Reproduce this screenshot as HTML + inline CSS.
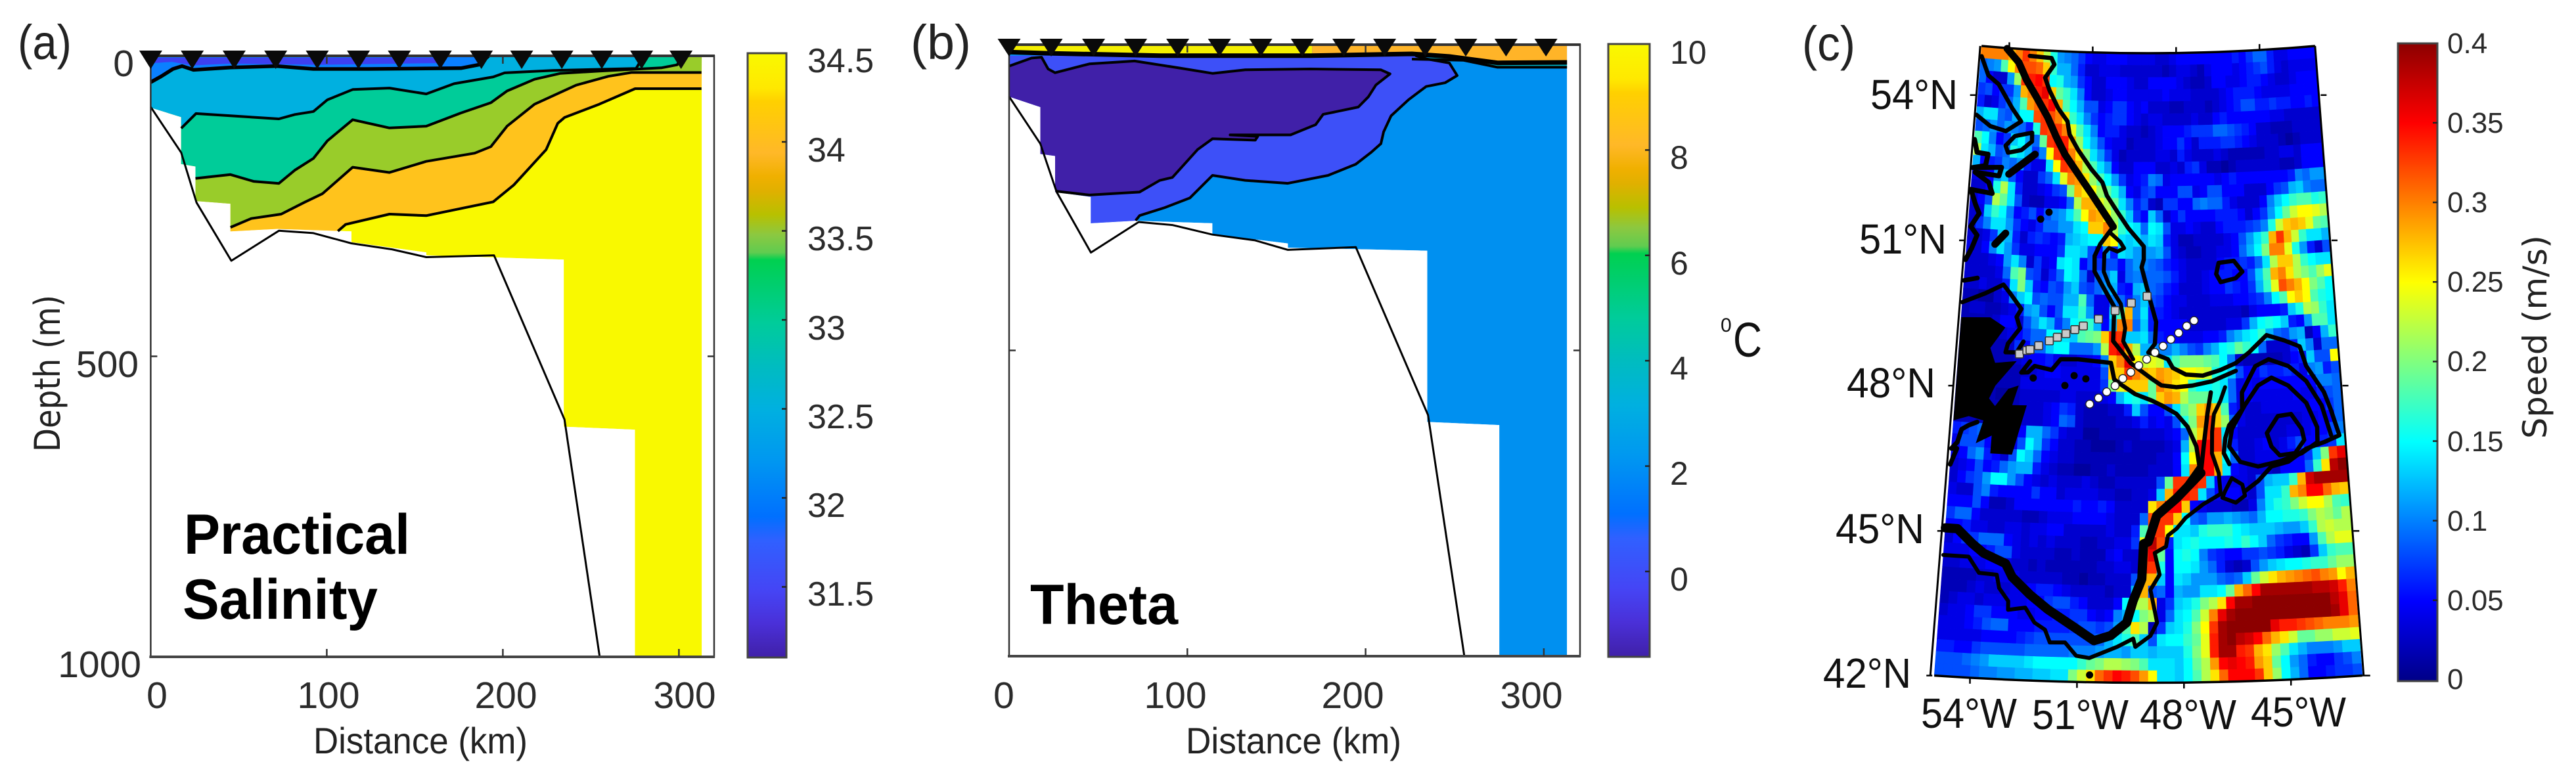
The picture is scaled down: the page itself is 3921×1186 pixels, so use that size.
<!DOCTYPE html>
<html lang="en">
<head>
<meta charset="utf-8">
<title>Practical salinity, theta and surface speed</title>
<style>
html,body{margin:0;padding:0;background:#fff;width:3921px;height:1186px;overflow:hidden}
svg{display:block}
text{font-family:"Liberation Sans",sans-serif;fill:#2b2b2b}
.tick{font-size:57px}
.cb{font-size:52px}
.cbt{font-size:50px}
.cbs{font-size:44px}
.map{font-size:64px;fill:#111}
.panel{font-size:74px;fill:#222}
.xl{font-size:56px;fill:#222}
.yl{font-family:"DejaVu Sans",sans-serif;fill:#222}
.big{font-size:86px;font-weight:bold;fill:#000}
</style>
</head>
<body>
<svg id="chart" xmlns="http://www.w3.org/2000/svg" width="3921" height="1186" viewBox="0 0 3921 1186">
<defs id="defs"></defs>
<g id="salinity"></g>
<g id="theta"></g>
<g id="map"></g>
<g id="bars"></g>

<text class="panel" x="27" y="90" textLength="82" lengthAdjust="spacingAndGlyphs">(a)</text>
<text class="panel" x="1386" y="90" textLength="92" lengthAdjust="spacingAndGlyphs">(b)</text>
<text class="panel" x="2743" y="92" textLength="81" lengthAdjust="spacingAndGlyphs">(c)</text>

<text class="tick" x="204" y="116" text-anchor="end">0</text>
<text class="tick" x="211" y="574" text-anchor="end">500</text>
<text class="tick" x="215" y="1031" text-anchor="end">1000</text>
<text class="yl" font-size="54" transform="translate(91,688) rotate(-90)" textLength="239" lengthAdjust="spacingAndGlyphs">Depth (m)</text>
<text class="tick" x="239" y="1078" text-anchor="middle">0</text>
<text class="tick" x="500" y="1078" text-anchor="middle">100</text>
<text class="tick" x="770" y="1078" text-anchor="middle">200</text>
<text class="tick" x="1042" y="1078" text-anchor="middle">300</text>
<text class="xl" x="477" y="1147" textLength="326" lengthAdjust="spacingAndGlyphs">Distance (km)</text>
<text class="big" x="280" y="843" textLength="344" lengthAdjust="spacingAndGlyphs">Practical</text>
<text class="big" x="278" y="942" textLength="297" lengthAdjust="spacingAndGlyphs">Salinity</text>

<text class="cb" x="1229" y="110">34.5</text>
<text class="cb" x="1229" y="246">34</text>
<text class="cb" x="1229" y="381">33.5</text>
<text class="cb" x="1229" y="517">33</text>
<text class="cb" x="1229" y="652">32.5</text>
<text class="cb" x="1229" y="787">32</text>
<text class="cb" x="1229" y="922">31.5</text>

<text class="tick" x="1528" y="1078" text-anchor="middle">0</text>
<text class="tick" x="1789" y="1078" text-anchor="middle">100</text>
<text class="tick" x="2059" y="1078" text-anchor="middle">200</text>
<text class="tick" x="2331" y="1078" text-anchor="middle">300</text>
<text class="xl" x="1805" y="1147" textLength="328" lengthAdjust="spacingAndGlyphs">Distance (km)</text>
<text class="big" x="1568" y="950" textLength="225" lengthAdjust="spacingAndGlyphs">Theta</text>

<text class="cbt" x="2542" y="97">10</text>
<text class="cbt" x="2542" y="257">8</text>
<text class="cbt" x="2542" y="418">6</text>
<text class="cbt" x="2542" y="578">4</text>
<text class="cbt" x="2542" y="738">2</text>
<text class="cbt" x="2542" y="899">0</text>
<text x="2619" y="505" font-size="30" style="fill:#111">0</text>
<text x="2638" y="543" font-size="74" style="fill:#111" textLength="44" lengthAdjust="spacingAndGlyphs">C</text>

<text class="map" x="2847" y="166" textLength="133" lengthAdjust="spacingAndGlyphs">54°N</text>
<text class="map" x="2830" y="386" textLength="133" lengthAdjust="spacingAndGlyphs">51°N</text>
<text class="map" x="2811" y="605" textLength="135" lengthAdjust="spacingAndGlyphs">48°N</text>
<text class="map" x="2794" y="827" textLength="135" lengthAdjust="spacingAndGlyphs">45°N</text>
<text class="map" x="2775" y="1047" textLength="134" lengthAdjust="spacingAndGlyphs">42°N</text>
<text class="map" x="2924" y="1108" textLength="146" lengthAdjust="spacingAndGlyphs">54°W</text>
<text class="map" x="3093" y="1110" textLength="147" lengthAdjust="spacingAndGlyphs">51°W</text>
<text class="map" x="3257" y="1110" textLength="147" lengthAdjust="spacingAndGlyphs">48°W</text>
<text class="map" x="3426" y="1106" textLength="145" lengthAdjust="spacingAndGlyphs">45°W</text>

<text class="cbs" x="3725" y="81">0.4</text>
<text class="cbs" x="3725" y="202">0.35</text>
<text class="cbs" x="3725" y="323">0.3</text>
<text class="cbs" x="3725" y="444">0.25</text>
<text class="cbs" x="3725" y="565">0.2</text>
<text class="cbs" x="3725" y="687">0.15</text>
<text class="cbs" x="3725" y="808">0.1</text>
<text class="cbs" x="3725" y="929">0.05</text>
<text class="cbs" x="3725" y="1049">0</text>
<text class="yl" font-size="50" transform="translate(3876,668) rotate(-90)" textLength="310" lengthAdjust="spacingAndGlyphs">Speed (m/s)</text>
</svg>

<script>
/* ---------- Section data: [distance km, depth m] ---------- */
const stationKm = [0,23.6,47.4,71,94.6,118,141.2,164.5,187.8,210.7,233.5,256.2,278.8,301.2];
const xTicksKm = [100,200,300];
const yTicksDepth = [500];

const salinityDomain = [[0,0],[0,86],[17.3,102],[17.3,180],[25.4,184],[25.4,241.5],[45.3,246],[45.3,292],[72,288],[114,292],[114,310],[156.5,327],[156.5,332],[234.6,339],[234.6,617],[275,622],[275,1000],[313,1000],[313,0]];
const salinityBathymetry = [[0,85],[17.3,161],[26,244],[45.8,341],[72.8,291],[92.4,295],[114,312],[137,322],[156.5,335],[195,332],[235,605],[255,1000]];
const salinity34 = [[106.3,291.7],[110.7,280.5],[135.6,263.4],[156.5,265.9],[194.5,242.9],[206.3,214.6],[224.6,156.1],[231.2,112.2],[235.1,102.4],[254.7,80.5],[275.1,54.6],[312.8,54.6]];
const salinity33p5 = [[45.3,285.4],[57.1,270.7],[74.1,263.4],[87.2,243.9],[97.6,229.3],[114.7,185.4],[135.6,194.1],[156.5,175.6],[184,162],[193.2,151.2],[202.4,117.1],[218,80.5],[241.6,48.8],[259.9,34.1],[273,27.8],[312.8,27.8]];
const salinity33 = [[25.4,203.9],[45.3,197.6],[58.4,208.8],[72.8,212.2],[81.9,190.2],[92.4,170.7],[100.3,141.5],[114.7,106.3],[135.6,120],[156.5,117.1],[176.2,95.1],[193.2,78],[202.4,58.5],[218,39],[232.5,29.3],[254.7,25.4],[290,20],[299,15],[302,0]];
const salinity32p5 = [[17.3,120.5],[25.7,96.1],[72.8,104.9],[81.9,97.6],[92.4,92.7],[100.3,73.2],[114.7,56.1],[135.6,53.7],[156.5,63.4],[172.3,46.3],[194.5,35.1],[201,28.3],[228.5,24.4],[275.7,21],[280,0]];
const salinity32 = [[0,43.9],[6,34.1],[12.6,21.9],[17.8,17],[24.3,23.4],[45.3,19.5],[71.5,17],[92.4,21.9],[123.8,21.9],[176.2,20.5],[186.6,14.6],[191.9,0]];
const salinity31p5 = [[2,3],[165,3],[165,12],[95,15],[70,14],[45,13],[24,16],[12,10],[2,12]];

const thetaDomain = [[0,0],[0,85],[17.5,102],[17.5,178.7],[25.8,182],[25.8,241],[45.8,249],[45.8,292],[70.4,288],[114,292],[114,310],[156.4,325],[156.4,332],[234.6,337],[234.6,617],[275,622],[275,1000],[313,1000],[313,0]];
const thetaBathymetry = [[0,85],[17.5,162],[26.7,241],[45.9,340],[72.7,290],[91.6,295],[114.1,310.6],[138,320],[156.4,335.6],[194.5,331],[235,605.6],[255.4,1000]];
const theta1 = [[71,287.6],[73.2,279.5],[87.3,266.5],[101.4,250.7],[114.1,213.8],[132.5,221.9],[156.4,226.7],[179,213.8],[194.5,195.5],[203,176.4],[208.6,162],[210.1,142.8],[214.3,116.4],[224.1,90],[234,68.4],[244.7,62.2],[251.4,50.5],[247,30],[234.8,23.6],[228,18]];
const thetaMinus1 = [[0,35],[12.6,21.9],[18.2,20.5],[21.9,39.7],[25.8,45.9],[45,31.5],[70.4,26.7],[95.8,38.2],[114.1,46.9],[132.5,41.1],[169.1,39.7],[208.6,41.1],[213.7,47.8],[205.8,66],[201.6,85.2],[195.9,102],[176.2,114],[172,130.8],[157.9,147.6],[124,147.6],[139.5,150],[138.1,156.2],[114.1,153.8],[105.7,171.6],[91.6,217.2],[84.5,222],[73.2,241],[45,245.9],[26.7,239.7]];
const thetaSurfaceWarm = [[0,12],[20,14],[85,18],[169,18],[226,15],[247,19.3],[274,29.7],[313,29]];
const thetaSurfaceCool = [[226,23.6],[255,25.6],[274,37],[313,37]];
const thetaYellowLimit = [[2,1],[170,1],[170,17],[85,17],[20,13],[2,11]];
const thetaOrangeLimit = [[170,1],[313,1],[313,29],[274,29.7],[247,19.3],[226,15],[170,17]];

/* ---------- Map data: speed in cm/s, north to south, west to east, 0.25 degree cells ---------- */
const speedGrid = [
[30,30,30,30,28,30,33,30,27,22,16,11,10,9,7,5,4,4,5,5,5,4,4,4,4,3,3,4,5,5,5,5,5,5,5,5,6,5,7,9,9,6,4,4,5,5,5,5],
[9,10,11,18,25,30,32,32,31,27,17,12,12,9,6,3,3,4,4,4,3,3,3,3,3,3,2,3,4,4,3,2,4,5,5,5,4,5,6,7,8,6,4,3,4,4,4,4],
[9,5,3,3,11,21,33,34,35,33,15,16,12,11,7,5,3,3,5,5,5,4,3,3,5,5,5,5,4,3,2,2,3,5,5,4,4,5,6,6,5,4,3,3,4,5,5,5],
[7,8,5,7,7,11,28,30,34,36,27,19,17,14,10,5,3,3,4,5,5,4,4,4,4,4,5,4,4,4,3,3,3,3,4,5,6,6,6,5,4,4,4,4,5,5,5,5],
[6,3,4,7,9,12,18,29,31,33,35,28,18,15,12,8,8,4,5,7,7,5,4,5,3,3,3,2,2,3,3,3,2,3,4,5,6,8,8,6,6,7,6,6,5,5,6,5],
[12,14,14,9,8,12,15,15,32,33,32,30,26,17,14,10,7,5,6,7,7,5,4,3,4,4,3,3,3,3,4,3,3,5,6,5,5,5,5,5,5,4,4,3,3,3,3,3],
[8,9,11,9,11,10,9,6,16,33,32,33,30,24,18,14,10,5,6,6,4,3,3,2,3,4,5,5,5,6,7,7,7,9,9,8,7,6,5,3,3,2,2,2,3,3,3,3],
[18,15,10,5,7,13,15,11,9,19,33,34,34,28,21,15,12,8,5,4,4,2,3,3,3,4,5,5,7,5,3,6,6,6,7,7,6,5,4,3,3,3,2,1,2,3,3,3],
[22,14,12,8,9,16,14,12,7,10,25,33,35,30,26,20,14,11,7,4,2,3,3,3,3,4,4,3,6,4,3,3,3,4,3,2,2,2,2,2,3,3,4,4,3,5,5,5],
[12,5,6,7,10,9,11,6,4,4,14,25,33,32,28,22,18,14,11,5,3,3,5,5,5,3,3,4,3,6,7,4,2,2,1,2,3,3,3,3,3,3,2,2,3,5,5,5],
[4,4,5,11,13,8,5,3,3,7,9,14,24,30,29,26,21,18,15,11,7,4,5,6,10,9,4,5,5,5,5,5,5,4,5,6,5,5,5,5,5,5,5,6,10,9,11,11],
[3,3,5,16,22,14,6,3,3,4,5,7,8,20,28,26,25,21,19,16,12,5,4,7,8,5,5,5,8,8,4,5,8,8,5,5,5,3,3,3,5,7,8,12,13,10,9,9],
[3,5,8,22,19,14,8,3,2,2,4,4,5,9,22,28,28,24,22,19,14,10,6,8,3,2,7,7,5,5,9,10,9,9,6,4,3,3,3,5,10,13,15,17,18,18,16,17],
[3,4,13,17,15,10,5,6,8,5,8,10,11,14,18,25,29,28,25,21,17,13,7,5,13,9,3,5,7,5,5,5,5,6,6,6,5,3,5,7,11,15,19,23,25,25,24,22],
[3,7,10,14,14,11,7,5,4,6,9,9,11,11,14,15,27,27,30,22,17,15,14,9,15,14,8,4,4,5,4,3,3,5,6,6,6,7,8,10,16,23,27,28,27,24,19,18],
[3,3,4,7,13,12,6,3,6,7,6,5,6,12,13,14,15,15,27,25,14,13,14,12,14,13,6,4,2,2,3,3,3,3,4,5,8,11,14,17,28,33,28,23,17,14,14,12],
[4,3,5,10,14,11,7,4,4,5,5,5,7,14,14,13,8,5,11,6,14,13,11,11,11,12,8,4,3,2,2,3,3,4,4,5,9,12,15,20,30,30,24,16,11,6,3,8],
[3,3,3,4,5,11,14,10,3,7,4,5,14,15,14,5,8,7,8,8,5,9,11,10,9,8,6,5,4,3,3,3,3,5,6,6,7,6,9,14,22,27,27,22,17,15,14,14],
[3,3,3,3,4,9,18,20,8,7,3,6,9,15,14,9,3,9,10,13,4,9,10,9,9,9,8,6,4,3,3,4,5,6,6,5,5,8,13,18,28,30,26,22,20,18,21,24],
[3,3,4,3,3,6,14,20,13,6,5,8,7,11,13,8,7,9,11,12,6,5,12,13,9,8,6,5,3,3,3,4,5,5,7,6,5,7,12,17,24,32,30,28,25,20,18,15],
[2,2,1,1,3,4,10,13,15,8,9,8,8,12,12,18,9,4,4,10,9,6,10,13,8,7,5,4,4,3,3,3,4,4,4,5,5,6,7,10,15,18,25,27,25,18,16,15],
[2,3,3,2,2,3,4,6,11,12,8,5,8,14,14,17,11,4,4,14,18,28,10,14,6,6,5,4,3,3,3,3,3,3,3,3,2,4,5,5,5,6,13,16,22,21,17,14],
[2,2,2,2,3,5,5,3,8,11,14,12,7,10,15,16,17,12,5,12,30,30,9,13,6,5,5,5,5,3,3,3,3,3,4,4,7,12,15,16,15,13,6,5,11,18,18,14],
[2,2,2,2,2,3,4,5,7,9,9,15,15,14,13,18,19,20,27,34,33,13,13,14,9,6,5,5,4,4,4,5,5,6,10,12,14,15,17,12,9,8,11,12,2,5,12,17],
[2,2,2,2,2,2,3,7,5,9,9,13,15,15,9,9,9,11,22,34,36,28,22,12,12,10,10,12,10,8,7,10,12,15,16,19,17,15,9,3,3,3,6,13,10,3,9,9],
[2,2,2,2,2,2,2,3,4,5,5,6,4,3,3,4,4,5,10,27,30,36,25,23,24,23,14,18,20,20,20,19,18,15,10,3,2,2,2,2,2,3,5,6,13,8,8,25],
[2,2,2,2,2,2,2,2,3,3,4,5,5,4,4,4,4,4,8,27,27,33,30,28,27,29,28,27,25,25,24,23,16,15,13,8,5,5,7,6,6,7,6,4,10,11,6,8],
[2,2,2,2,2,2,2,2,4,4,4,4,4,4,4,4,4,4,7,20,24,27,27,27,19,30,28,26,25,17,15,15,16,14,9,4,5,4,5,5,5,5,5,5,5,10,10,9],
[2,2,2,2,2,1,1,2,3,3,3,3,3,4,4,3,3,3,4,5,12,15,16,14,19,27,29,28,22,19,19,19,16,14,9,4,5,4,4,4,4,4,5,4,4,6,8,9],
[2,2,2,2,2,2,2,2,3,3,3,4,5,7,6,3,2,2,2,3,3,6,13,8,5,5,8,14,19,21,27,29,27,18,6,4,3,3,4,4,4,4,4,4,5,5,7,9],
[2,2,2,2,2,2,2,2,3,3,3,4,5,9,8,3,2,2,2,2,3,3,4,6,4,5,4,8,16,20,29,33,27,21,9,4,3,3,3,3,3,3,3,4,4,5,5,9],
[6,7,8,9,8,6,3,3,5,12,12,9,7,4,3,3,1,1,2,2,2,2,2,3,3,3,4,5,9,22,27,33,33,14,5,3,3,3,3,3,3,4,4,4,5,5,8,10],
[4,8,8,8,5,3,3,4,8,15,12,7,5,3,3,2,2,1,1,1,2,3,2,2,2,2,3,4,12,22,35,35,33,13,6,3,3,4,5,3,4,6,8,5,5,6,7,14],
[4,5,9,11,6,5,3,8,15,13,9,5,4,3,3,2,2,2,2,2,2,2,2,2,2,3,3,5,15,25,35,35,28,15,9,3,3,4,4,4,4,5,5,7,13,20,33,36],
[3,4,5,8,5,6,9,11,12,12,6,4,3,2,2,1,1,2,2,3,2,2,2,2,3,3,3,5,14,30,35,35,28,14,5,4,3,3,3,2,5,5,5,9,17,26,38,40],
[3,5,7,8,11,15,15,11,8,5,4,3,4,3,3,3,4,3,2,2,3,3,3,3,3,8,19,33,33,34,33,13,5,4,4,4,3,8,12,13,13,17,28,37,39,39,39,39],
[4,3,3,8,10,6,5,5,5,5,7,5,5,3,4,4,4,4,3,3,2,2,3,3,4,13,28,34,34,33,14,8,5,5,5,4,3,8,14,14,17,28,30,35,35,31,28,27],
[5,5,5,8,5,2,2,3,5,5,5,5,5,5,5,6,5,5,6,5,3,3,3,3,26,30,35,35,27,5,4,3,3,3,2,2,4,10,14,16,17,20,23,25,25,22,18,17],
[7,9,9,5,3,3,3,3,3,2,2,3,4,4,4,5,5,5,5,4,3,3,3,9,32,33,33,27,15,9,8,11,11,12,11,10,9,12,15,15,16,16,17,20,22,21,19,22],
[5,5,6,4,4,3,3,4,4,3,4,4,5,5,3,3,3,3,3,4,3,3,6,18,33,33,25,14,14,13,16,17,17,17,15,14,13,13,13,12,11,11,13,17,22,23,22,22],
[3,5,7,7,9,9,9,5,4,3,4,3,4,3,3,3,2,2,3,3,4,4,7,24,38,32,6,14,15,16,15,15,15,16,15,17,15,13,9,7,6,5,5,11,18,22,24,24],
[4,4,4,5,5,6,8,8,4,3,3,3,3,2,2,3,2,2,2,4,5,3,3,33,36,19,5,15,16,15,10,7,6,5,5,7,7,8,7,6,4,3,2,7,13,17,18,18],
[3,3,4,4,4,5,5,4,3,3,2,3,2,2,2,2,2,2,3,3,4,4,3,33,33,16,5,15,15,14,11,9,6,3,2,3,8,11,13,14,15,15,16,17,17,19,21,21],
[2,2,2,2,3,3,4,4,4,3,3,3,3,3,2,2,1,2,2,3,3,3,8,28,28,13,5,14,13,11,11,11,9,8,9,13,19,23,26,28,29,30,31,32,30,29,25,28],
[2,2,2,3,4,3,3,3,4,4,5,6,6,5,4,3,3,3,3,2,3,3,12,28,8,9,5,12,11,11,14,14,15,19,28,31,35,39,39,39,39,39,39,38,38,37,34,30],
[2,3,4,4,3,4,4,4,4,4,5,5,7,8,8,6,5,3,3,3,5,15,22,22,28,4,7,13,14,16,20,22,26,35,39,39,40,40,40,40,40,40,40,40,40,38,36,31],
[3,4,4,5,7,7,5,5,5,4,4,5,5,6,6,7,7,5,4,5,10,12,15,20,22,4,9,14,15,18,23,30,36,39,40,40,40,40,40,40,40,40,40,40,40,39,36,31],
[4,4,4,5,6,8,9,9,5,5,5,6,6,6,6,7,8,8,7,8,11,18,26,22,2,7,13,14,16,20,25,33,39,40,40,40,40,40,36,34,34,33,32,31,30,30,30,29],
[4,4,4,4,4,5,5,5,5,6,7,8,8,8,8,8,8,8,9,12,14,16,18,13,8,14,15,15,17,19,24,34,39,40,38,37,35,31,28,26,23,19,19,21,21,23,23,24],
[6,6,5,5,7,8,8,8,8,8,9,9,9,9,9,10,10,10,11,12,12,11,13,13,12,13,13,13,16,20,24,34,39,39,34,33,28,26,21,18,14,12,10,10,10,11,13,13],
[8,8,8,9,10,11,13,13,13,13,14,15,15,15,15,15,17,19,20,22,22,21,20,18,14,14,14,13,15,19,22,29,35,36,35,34,29,27,19,15,11,9,6,5,5,7,8,10],
[8,8,8,8,9,10,10,11,11,12,12,13,13,14,14,20,23,26,31,33,35,34,32,29,25,14,14,13,15,18,22,26,31,35,35,35,33,27,21,15,12,9,5,5,6,7,7,8]
];
const speedStops = [0,5,15,25,35,40];
const speedColors = [[0,0,135],[0,0,255],[0,255,255],[255,255,0],[255,0,0],[140,0,0]];
const latTicks = [54,51,48,45];
const lonTicks = [-54,-51,-48,-45];

/* ---------- Map overlays: [longitude, latitude] ---------- */
const landNewfoundland = [[-55,49.4],[-54.07,49.44],[-53.57,49.25],[-54.01,48.81],[-53.83,48.51],[-53.15,48.57],[-53.78,48.04],[-53.95,47.77],[-53.75,47.62],[-53.37,47.99],[-53.05,48.07],[-53.22,47.66],[-52.77,47.67],[-53.15,46.64],[-53.81,46.64],[-53.8,47.01],[-54.27,46.83],[-54.08,47.31],[-54.54,47.38],[-55,47.27]];
const currentInner = [[-54.08,54.99],[-53.63,54.72],[-53.32,54.37],[-52.94,54.03],[-52.52,53.63],[-52.19,53.23],[-51.87,52.88],[-51.39,52.48],[-50.93,52.09],[-50.47,51.68],[-50.17,51.41]];
const westBranch = [[-50.17,51.41],[-50.59,51.05],[-50.77,50.8],[-50.76,50.48],[-50.43,50.12],[-50.1,49.76],[-50.12,49.05],[-49.83,48.82],[-49.56,48.6],[-48.9,48.28],[-48.59,48.14],[-48.12,48.1],[-47.62,48.13],[-47,48.21],[-46.25,48.41]];
const westBranchInner = [[-50.24,51.27],[-49.93,51.1],[-49.8,50.97],[-50.02,50.9],[-50.3,50.97],[-50.45,50.86],[-50.45,50.8],[-50.46,50.48],[-50.28,50.21],[-49.89,49.82],[-49.74,49.32],[-49.8,49.05],[-49.48,48.68]];
const currentOuter = [[-53.25,54.87],[-52.47,54.85],[-52.36,54.72],[-52.67,54.44],[-52.49,54.18],[-52.16,53.82],[-51.82,53.56],[-51.73,53.29],[-51.42,52.98],[-50.95,52.59],[-50.56,52.32],[-50.4,52.05],[-50.04,51.72],[-49.66,51.38],[-49.15,51.01],[-49.15,50.74],[-49.22,50.58],[-48.94,49.9],[-48.75,49.45],[-48.79,49],[-49,48.82],[-48.73,48.77],[-48.38,48.68],[-48.23,48.5],[-47.82,48.36],[-47.29,48.33],[-46.72,48.44],[-46.24,48.57],[-45.81,48.78],[-45.23,49.12],[-44.67,48.99],[-44.2,48.85],[-44.03,48.44],[-43.53,47.88],[-43.36,47.52],[-43.15,46.97],[-43.63,46.85],[-44.18,46.74],[-44.75,46.49],[-45.27,46.41],[-45.69,46.12],[-46.1,45.92]];
const slopeBandUpper = [[-47.05,47.98],[-47.17,47.54],[-47.29,46.96],[-47.41,46.32]];
const slopeBandWest = [[-47.41,46.32],[-48.15,45.81],[-48.75,45.45],[-49,44.91],[-49.14,44.87],[-49.19,44.14],[-49.44,43.69],[-49.62,43.24],[-50.07,42.97],[-50.55,42.86],[-51.12,43.13],[-51.89,43.48],[-52.42,43.77],[-52.96,44.12],[-53.17,44.39],[-53.83,44.58],[-54.17,44.76],[-54.64,45.05],[-55,45.05]];
const slopeBandEast = [[-46.6,48.08],[-46.76,47.8],[-46.97,47.53],[-47.04,47.17],[-47.06,46.72],[-46.87,46.31],[-46.83,45.88],[-47.37,45.67],[-47.89,45.4],[-48.16,45.18],[-48.42,45.04],[-48.48,44.81],[-48.81,44.68],[-48.67,44.23],[-48.94,43.92],[-48.81,43.46],[-48.75,43.24],[-48.94,42.97],[-49.37,42.74],[-49.43,42.91],[-49.88,42.74],[-50.67,42.5],[-51.04,42.54],[-51.37,42.81],[-51.8,42.8],[-51.95,43.06],[-52.26,43.2],[-52.54,43.5],[-53.03,43.44],[-53.04,43.62],[-53.32,43.88],[-53.41,44.15],[-53.93,44.17],[-54.26,44.49],[-55,44.49]];
const junctionSouth = [[-52.73,48.58],[-52.99,48.34],[-52.78,48.35],[-52.58,48.49],[-52.04,48.42],[-51.77,48.65],[-51.22,48.66],[-50.18,48.6],[-50.07,48.26],[-49.82,48.14],[-49.41,47.96],[-48.9,47.83],[-48.59,47.73],[-48.13,47.55],[-47.79,47.28],[-47.53,46.87],[-47.45,46.46],[-48.15,45.81]];
const eddyOuter = [[-46.54,46.49],[-46.7,46.72],[-46.64,47.03],[-46.51,47.29],[-46.09,47.61],[-46.08,47.96],[-45.63,48.49],[-45.2,48.62],[-44.59,48.46],[-44.06,48.13],[-43.63,47.61],[-43.4,46.98]];
const eddyMiddle = [[-46.01,47.69],[-45.57,48.09],[-45.14,48.24],[-44.63,48.06],[-44.1,47.68],[-43.81,47.17],[-43.83,46.86],[-44.33,46.65],[-45,46.51],[-45.67,46.42],[-46.21,46.53],[-46.53,46.85],[-46.43,47.21],[-46.01,47.69]];
const eddyInner = [[-45,47.44],[-44.59,47.47],[-44.29,47.15],[-44.23,46.92],[-44.53,46.66],[-45,46.63],[-45.24,46.82],[-45.36,47.1],[-45,47.44]];
const closedNorth = [[-46.69,50.65],[-46.19,50.68],[-45.92,50.45],[-46.15,50.32],[-46.64,50.25],[-46.78,50.42],[-46.69,50.65]];
const closedSouth = [[-46.78,45.8],[-46.69,45.94],[-46.48,46.2],[-46.17,46.06],[-46.1,45.83],[-46.38,45.69],[-46.78,45.8]];
const shelfNorth = [[-54.97,54.79],[-54.68,54.41],[-54.29,54.24],[-53.77,53.77],[-53.43,53.51],[-53.94,53.29],[-54.49,53.37],[-55,53.58]];
const shelfLoop = [[-53.92,52.99],[-53.62,53.2],[-53.03,53.29],[-53.02,53.11],[-53.37,52.92],[-53.82,52.85],[-53.92,52.99]];
const shelfCoast = [[-55,53.07],[-54.88,52.81],[-54.5,52.79],[-54.56,52.55],[-55,52.49],[-54.01,52.54],[-54.08,52.36],[-54.9,52.4],[-54.41,52.21],[-54.27,51.99],[-55,52.04],[-54.8,51.73],[-54.66,51.56],[-54.91,51.28],[-54.68,51.11],[-54.83,50.83],[-55,50.59]];
const shelfBar1 = [[-53.75,52.41],[-52.89,52.85]];
const shelfBar2 = [[-54.07,50.95],[-53.74,51.19]];
const shelfCentral = [[-55,49.71],[-54.27,49.93],[-53.71,50.13],[-53.48,49.96],[-53.09,49.65],[-53.23,49.48],[-53.1,49.25],[-53.46,48.92],[-53.52,48.74],[-53.17,48.75],[-52.97,48.98]];
const shelfSmall = [[-55,50.16],[-54.57,50.23]];
const shelfSouth = [[-54.27,47.27],[-54.53,47.19],[-54.73,47.1],[-54.83,46.83],[-55,46.69],[-54.83,46.7],[-55,46.36]];
const shelfDots = [[-51.61,48.11],[-51.33,48.32],[-50.96,48.26],[-52.61,48.24],[-52.33,51.67],[-52.6,51.52],[-50.65,42.15]];
const stationsNorth = [[-53.08,48.72],[-52.85,48.8],[-52.75,48.82],[-52.48,48.91],[-52.15,49.02],[-51.9,49.1],[-51.63,49.18],[-51.35,49.27],[-51.08,49.35],[-50.6,49.5],[-50.07,49.68],[-49.55,49.84],[-49.04,49.98]];
const stationsSouth = [[-50.82,47.74],[-50.55,47.87],[-50.3,48],[-50.04,48.13],[-49.8,48.28],[-49.55,48.41],[-49.3,48.55],[-49.05,48.68],[-48.79,48.82],[-48.53,48.95],[-48.28,49.09],[-48.03,49.22],[-47.77,49.36],[-47.53,49.47]];

/* ---------- Colour bar stops (fraction from top, colour) ---------- */
const sectionBarStops = [[0,'#f9f900'],[0.058,'#ffe800'],[0.08,'#ffd000'],[0.165,'#ffb828'],[0.204,'#f0b000'],[0.228,'#e0b000'],[0.267,'#b8c000'],[0.3,'#8cc840'],[0.33,'#60cc50'],[0.342,'#00d050'],[0.446,'#00cc9a'],[0.518,'#00bcc0'],[0.589,'#00b0e0'],[0.672,'#0098f0'],[0.767,'#0070ff'],[0.807,'#3060ff'],[0.889,'#4545f5'],[0.944,'#4a30d8'],[1,'#4020a8']];
const salinityBarTicks = [34,33.5,33,32.5,32,31.5];
const thetaBarTicks = [8,6,4,2,0];
const speedBarTicks = [0.35,0.3,0.25,0.2,0.15,0.1,0.05];

/* ---------- Scales ---------- */
const NS = 'http://www.w3.org/2000/svg';
const salX = km => 229.4 + km * 2.68;
const salY = d => 85 + d * 0.915;
const thX = km => 1536 + km * 2.713;
const thY = d => 68 + d * 0.931;
const mapW = lat => 42.3 + (55 - lat) * 0.923;
const mapX = (lon, lat) => 3270 + (lon + 49) * mapW(lat);
const mapY = (lon, lat) => 1039.5 - (lat - 42) * 73.73 - 11 * Math.pow((lon + 49) / 6, 2);
const salBarY = v => 80.5 + (34.5 - v) * 271;
const thBarY = v => 68 + (10 - v) * 80.2;
const spBarY = v => 1035 - v * 2423;

function mk(tag, parent, attrs) {
  const e = document.createElementNS(NS, tag);
  for (const k in attrs) e.setAttribute(k, attrs[k]);
  parent.appendChild(e);
  return e;
}
const toPts = (arr, fx, fy) => arr.map(p => fx(p[0]).toFixed(1) + ',' + fy(p[1]).toFixed(1)).join(' ');
const toMapPts = arr => arr.map(p => mapX(p[0], p[1]).toFixed(1) + ',' + mapY(p[0], p[1]).toFixed(1)).join(' ');
function jet(v) {
  const x = Math.max(speedStops[0], Math.min(speedStops[speedStops.length - 1], v));
  for (let i = 1; i < speedStops.length; i++) {
    if (x <= speedStops[i]) {
      const f = (x - speedStops[i - 1]) / (speedStops[i] - speedStops[i - 1]);
      const a = speedColors[i - 1], b = speedColors[i];
      return 'rgb(' + Math.round(a[0] + (b[0] - a[0]) * f) + ',' + Math.round(a[1] + (b[1] - a[1]) * f) + ',' + Math.round(a[2] + (b[2] - a[2]) * f) + ')';
    }
  }
  return 'rgb(140,0,0)';
}

/* ---------- Section panels ---------- */
const defs = document.getElementById('defs');
function clip(id, domain, fx, fy) {
  const c = mk('clipPath', defs, {id: id});
  mk('polygon', c, {points: toPts(domain, fx, fy)});
}
clip('salClip', salinityDomain, salX, salY);
clip('thClip', thetaDomain, thX, thY);

function region(parent, clipId, pts, fx, fy, color, name) {
  const el = mk('polygon', parent, {points: toPts(pts, fx, fy), fill: color, 'clip-path': 'url(#' + clipId + ')'});
  
  
  return el;
}
function line(parent, pts, fx, fy, width, name) {
  const el = mk('polyline', parent, {points: toPts(pts, fx, fy), fill: 'none', stroke: '#000', 'stroke-width': width, 'stroke-linejoin': 'round'});
  
  
  return el;
}
function frame(parent, fx, fy, xR, name) {
  const x0 = fx(0), x1 = xR, y0 = fy(0), y1 = fy(1000);
  const box = mk('rect', parent, {x: x0, y: y0, width: x1 - x0, height: y1 - y0, fill: 'none', stroke: '#333', 'stroke-width': 2.5});
  
  
  const base = mk('line', parent, {x1: x0 - 2, x2: x1 + 1, y1: y1, y2: y1, stroke: '#444', 'stroke-width': 4});
  
  
  const top = mk('line', parent, {x1: x0 - 1, x2: x1 + 1, y1: y0, y2: y0, stroke: '#333', 'stroke-width': 4});
  
  
  xTicksKm.forEach(function (k) {
    const t = mk('line', parent, {x1: fx(k), x2: fx(k), y1: y1, y2: y1 - 12, stroke: '#333', 'stroke-width': 2.5});
    
    
    const u = mk('line', parent, {x1: fx(k), x2: fx(k), y1: y0, y2: y0 + 12, stroke: '#333', 'stroke-width': 2.5});
    
    
  });
  yTicksDepth.forEach(function (d) {
    const t = mk('line', parent, {x1: x0, x2: x0 + 10, y1: fy(d), y2: fy(d), stroke: '#333', 'stroke-width': 2.5});
    
    
    const u = mk('line', parent, {x1: x1, x2: x1 - 10, y1: fy(d), y2: fy(d), stroke: '#333', 'stroke-width': 2.5});
    
    
  });
}
function markers(parent, fx, top, tip) {
  stationKm.forEach(function (k) {
    const x = fx(k);
    const m = mk('polygon', parent, {points: (x - 17.5) + ',' + top + ' ' + (x + 17.5) + ',' + top + ' ' + x + ',' + tip, fill: '#0a0a0a'});
    
    
  });
}

const gS = document.getElementById('salinity');
region(gS, 'salClip', salinityDomain, salX, salY, '#f9f900', 'salinity-yellow-water');
region(gS, 'salClip', [[0,300],[106.3,300]].concat(salinity34, [[313,0],[0,0]]), salX, salY, '#ffc31c', 'salinity-orange-band');
region(gS, 'salClip', [[0,300],[45.3,300]].concat(salinity33p5, [[313,0],[0,0]]), salX, salY, '#99cc2a', 'salinity-lime-band');
region(gS, 'salClip', [[0,300],[25.4,300]].concat(salinity33, [[0,0]]), salX, salY, '#00cc99', 'salinity-teal-band');
region(gS, 'salClip', [[0,300],[17.3,300]].concat(salinity32p5, [[0,0]]), salX, salY, '#00b0e0', 'salinity-sky-band');
region(gS, 'salClip', salinity32.concat([[0,0]]), salX, salY, '#0a80ff', 'salinity-blue-band');
region(gS, 'salClip', salinity31p5, salX, salY, '#3d40f0', 'salinity-indigo-band');
line(gS, salinity34, salX, salY, 4, 'salinity-contour-34');
line(gS, salinity33p5, salX, salY, 4, 'salinity-contour-33.5');
line(gS, salinity33, salX, salY, 4, 'salinity-contour-33');
line(gS, salinity32p5, salX, salY, 4, 'salinity-contour-32.5');
line(gS, salinity32, salX, salY, 5.5, 'salinity-contour-32');
line(gS, salinityBathymetry, salX, salY, 3, 'salinity-bathymetry');
frame(gS, salX, salY, 1087, 'salinity-axes-box');
markers(gS, salX, 77, 105);

const gT = document.getElementById('theta');
region(gT, 'thClip', thetaDomain, thX, thY, '#0090f0', 'theta-blue-water');
region(gT, 'thClip', [[0,300],[71,300]].concat(theta1, [[0,18]]), thX, thY, '#3d50f8', 'theta-indigo-band');
region(gT, 'thClip', [[0,300],[26.7,300]].concat(thetaMinus1.slice().reverse(), [[0,35]]), thX, thY, '#4020a8', 'theta-purple-band');
region(gT, 'thClip', thetaYellowLimit, thX, thY, '#f5f000', 'theta-surface-yellow');
region(gT, 'thClip', thetaOrangeLimit, thX, thY, '#ffb428', 'theta-surface-orange');
region(gT, 'thClip', thetaSurfaceWarm.slice(5).concat(thetaSurfaceCool.slice().reverse()), thX, thY, '#00b4c8', 'theta-surface-teal');
line(gT, theta1, thX, thY, 4, 'theta-contour-1');
line(gT, thetaMinus1, thX, thY, 4, 'theta-contour-minus-1');
line(gT, thetaSurfaceWarm, thX, thY, 7, 'theta-surface-contour-warm');
line(gT, thetaSurfaceCool, thX, thY, 4, 'theta-surface-contour-cool');
line(gT, thetaBathymetry, thX, thY, 3, 'theta-bathymetry');
frame(gT, thX, thY, 2405, 'theta-axes-box');
markers(gT, thX, 59, 86);

/* ---------- Map ---------- */
const gM = document.getElementById('map');
const gCells = mk('g', gM, {});


speedGrid.forEach(function (row, r) {
  const latN = 55 - r * 0.25, latS = latN - 0.25;
  row.forEach(function (v, c) {
    const lonW = -55 + c * 0.25, lonE = lonW + 0.25;
    const color = jet(v);
    const pts = [[lonW, latN], [lonE, latN], [lonE, latS], [lonW, latS]];
    const cell = mk('polygon', gCells, {points: toMapPts(pts), fill: color, stroke: color, 'stroke-width': 0.6});
    
    
  });
});
const land = mk('polygon', gM, {points: toMapPts(landNewfoundland), fill: '#000'});


function contour(arr, width, name) {
  const el = mk('polyline', gM, {points: toMapPts(arr), fill: 'none', stroke: '#000', 'stroke-width': width, 'stroke-linejoin': 'round', 'stroke-linecap': 'round'});
  
  
}
contour(currentInner, 11, 'contour-current-inner');
contour(westBranch, 6.5, 'contour-west-branch');
contour(westBranchInner, 6, 'contour-west-branch-inner');
contour(currentOuter, 6.5, 'contour-current-outer');
contour(slopeBandUpper, 6.5, 'contour-slope-band-upper');
contour(slopeBandWest, 14, 'contour-slope-band-west');
contour(slopeBandEast, 6, 'contour-slope-band-east');
contour(junctionSouth, 6.5, 'contour-junction-south');
contour(eddyOuter, 6.5, 'contour-eddy-outer');
contour(eddyMiddle, 6.5, 'contour-eddy-middle');
contour(eddyInner, 6.5, 'contour-eddy-inner');
contour(closedNorth, 6.5, 'contour-closed-north');
contour(closedSouth, 6, 'contour-closed-south');
contour(shelfNorth, 6.5, 'contour-shelf-north');
contour(shelfLoop, 6.5, 'contour-shelf-loop');
contour(shelfCoast, 7.5, 'contour-shelf-coast');
contour(shelfBar1, 11, 'contour-shelf-bar-1');
contour(shelfBar2, 11, 'contour-shelf-bar-2');
contour(shelfCentral, 6.5, 'contour-shelf-central');
contour(shelfSmall, 7, 'contour-shelf-small');
contour(shelfSouth, 7, 'contour-shelf-south');
shelfDots.forEach(function (p) {
  const d = mk('circle', gM, {cx: mapX(p[0], p[1]), cy: mapY(p[0], p[1]), r: 5.5, fill: '#000'});
  
  
});
stationsNorth.forEach(function (p) {
  const x = mapX(p[0], p[1]), y = mapY(p[0], p[1]);
  const s = mk('rect', gM, {x: x - 6, y: y - 6, width: 12, height: 12, rx: 1.5, fill: '#c9c9c9', stroke: '#333', 'stroke-width': 1.6});
  
  
});
stationsSouth.forEach(function (p) {
  const c = mk('circle', gM, {cx: mapX(p[0], p[1]), cy: mapY(p[0], p[1]), r: 6, fill: '#fff', stroke: '#222', 'stroke-width': 1.4});
  
  
});
/* frame */
function edgePts() {
  const out = [];
  for (let l = -55; l <= -43; l += 0.5) out.push([l, 55]);
  return out;
}
const topEdge = mk('polyline', gM, {points: toMapPts(edgePts()), fill: 'none', stroke: '#000', 'stroke-width': 3.5});


const bottomEdge = mk('polyline', gM, {points: toMapPts(edgePts().map(function (p) { return [p[0], 42]; })), fill: 'none', stroke: '#000', 'stroke-width': 3.5});


const leftEdge = mk('line', gM, {x1: mapX(-55, 55) - 2, y1: mapY(-55, 55), x2: mapX(-55, 42) - 6, y2: mapY(-55, 42), stroke: '#000', 'stroke-width': 3});


const rightEdge = mk('line', gM, {x1: mapX(-43, 55), y1: mapY(-43, 55), x2: mapX(-43, 42) + 2, y2: mapY(-43, 42), stroke: '#000', 'stroke-width': 3});


latTicks.forEach(function (lat) {
  const a = mk('line', gM, {x1: mapX(-55, lat) - 12, x2: mapX(-55, lat) - 3, y1: mapY(-55, lat) + 1, y2: mapY(-55, lat) + 1, stroke: '#000', 'stroke-width': 2.5});
  
  
  const b = mk('line', gM, {x1: mapX(-43, lat) + 3, x2: mapX(-43, lat) + 12, y1: mapY(-43, lat) + 1, y2: mapY(-43, lat) + 1, stroke: '#000', 'stroke-width': 2.5});
  
  
});
const tickL = mk('line', gM, {x1: mapX(-55, 42) - 12, x2: mapX(-55, 42) - 3, y1: mapY(-55, 42), y2: mapY(-55, 42), stroke: '#000', 'stroke-width': 2.5});


const tickR = mk('line', gM, {x1: mapX(-43, 42), x2: mapX(-43, 42) + 12, y1: mapY(-43, 42), y2: mapY(-43, 42), stroke: '#000', 'stroke-width': 2.5});


lonTicks.forEach(function (lon) {
  const a = mk('line', gM, {x1: mapX(lon, 55), x2: mapX(lon, 55), y1: mapY(lon, 55), y2: mapY(lon, 55) - 9, stroke: '#000', 'stroke-width': 2.5});
  
  
  const b = mk('line', gM, {x1: mapX(lon, 42), x2: mapX(lon, 42), y1: mapY(lon, 42), y2: mapY(lon, 42) + 9, stroke: '#000', 'stroke-width': 2.5});
  
  
});

/* ---------- Colour bars ---------- */
const gB = document.getElementById('bars');
function gradient(id, stops) {
  const g = mk('linearGradient', defs, {id: id, x1: 0, y1: 0, x2: 0, y2: 1});
  stops.forEach(function (s) { mk('stop', g, {offset: s[0], 'stop-color': s[1]}); });
}
gradient('secGrad', sectionBarStops);
const jetStops = speedStops.map(function (s, i) {
  const c = speedColors[i];
  return [1 - s / 40, 'rgb(' + c[0] + ',' + c[1] + ',' + c[2] + ')'];
}).reverse();
gradient('jetGrad', jetStops);
function bar(x, y0, y1, w, grad, ticks, fy, name) {
  const r = mk('rect', gB, {x: x, y: y0, width: w, height: y1 - y0, fill: 'url(#' + grad + ')', stroke: '#444', 'stroke-width': 3});
  
  
  ticks.forEach(function (v) {
    const t = mk('line', gB, {x1: x + w, x2: x + w - 7, y1: fy(v), y2: fy(v), stroke: '#222', 'stroke-width': 2.5});
    
    
  });
}
bar(1138, 81, 1001, 59, 'secGrad', salinityBarTicks, salBarY, 'salinity-colorbar');
bar(2448, 67, 1000, 63, 'secGrad', thetaBarTicks, thBarY, 'theta-colorbar');
bar(3650, 66, 1037, 60, 'jetGrad', speedBarTicks, spBarY, 'speed-colorbar');
</script>
</body>
</html>
